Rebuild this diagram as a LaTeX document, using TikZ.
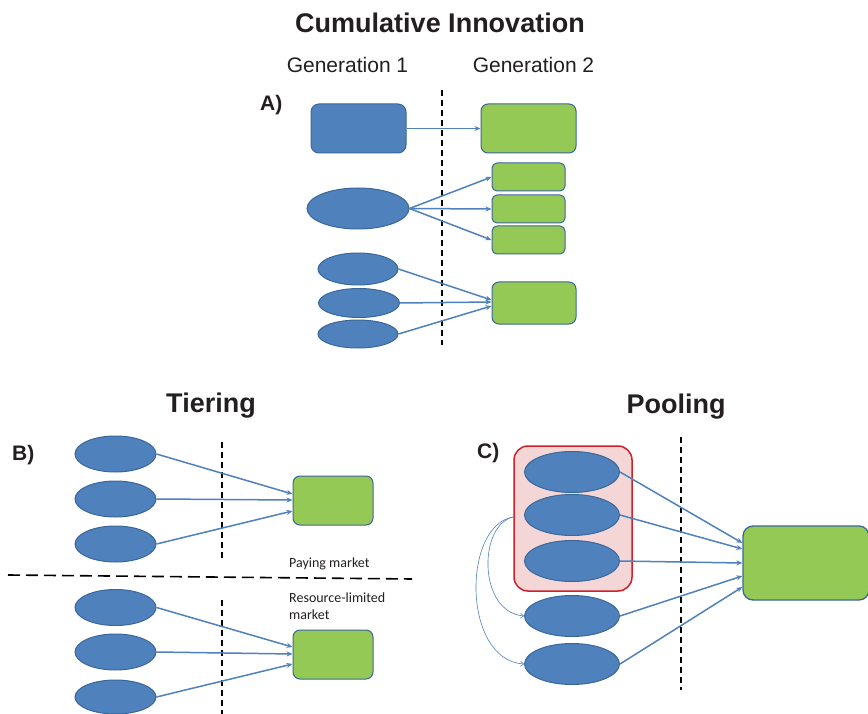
\documentclass[tikz,border=0pt]{standalone}
\usepackage{fontspec}
\setmainfont{Liberation Sans}
\newfontfamily\calfont{Carlito}
\usetikzlibrary{shapes.geometric,arrows.meta,calc}
\definecolor{bfill}{HTML}{4F81BD}
\definecolor{bdraw}{HTML}{3A679A}
\definecolor{gfill}{HTML}{94C955}
\definecolor{arr}{HTML}{4F81BD}
\definecolor{redb}{HTML}{D0202A}
\definecolor{pinkf}{HTML}{F5D6D6}
\definecolor{txt}{HTML}{231F20}
\begin{document}
\begin{tikzpicture}[x=1pt,y=-1pt,
  blueell/.style={ellipse,draw=bdraw,fill=bfill,line width=1pt,inner sep=0pt},
  bluebox/.style={rectangle,rounded corners=8pt,draw=bdraw,fill=bfill,line width=1pt,inner sep=0pt},
  greenbox/.style={rectangle,rounded corners=7pt,draw=bdraw,fill=gfill,line width=1pt,inner sep=0pt},
  conn/.style={draw=arr,line width=1.5pt,-{Stealth[length=6pt,width=5pt]}},
  thinconn/.style={draw=arr,line width=0.6pt,-{Straight Barb[length=3pt,width=5pt]}},
  divider/.style={draw=black,line width=1.6pt,dash pattern=on 6pt off 4pt},
  ttl/.style={text=txt,font=\bfseries\fontsize{27}{32}\selectfont,anchor=base,inner sep=0pt},
  gen/.style={text=txt,font=\fontsize{21}{25}\selectfont,anchor=base,inner sep=0pt},
  lbl/.style={text=txt,font=\bfseries\fontsize{21}{25}\selectfont,anchor=base west,inner sep=0pt},
  mkt/.style={text=txt,font=\calfont\fontsize{14}{17}\selectfont,anchor=base west,inner sep=0pt}
]
\useasboundingbox (0,0) rectangle (868,714);
\fill[white] (0,0) rectangle (868,714);

% ---------------- Panel A ----------------
\node[ttl] (tA) at (440,33) {Cumulative Innovation};
\node[gen] (g1) at (347.5,73) {Generation 1};
\node[gen] (g2) at (533.5,73) {Generation 2};
\node[lbl] (lA) at (260,111) {A)};
\draw[divider] (442,90) -- (442,345);

\node[bluebox,minimum width=95pt,minimum height=49pt] (ab1) at (358.5,128.5) {};
\node[greenbox,minimum width=95pt,minimum height=49pt] (ag1) at (528.5,128.5) {};
\draw[conn] (ab1.east) -- (ag1.west);

\node[blueell,minimum width=102pt,minimum height=41pt] (am) at (358,208.5) {};
\node[greenbox,rounded corners=5pt,minimum width=73pt,minimum height=28pt] (as1) at (528.5,177) {};
\node[greenbox,rounded corners=5pt,minimum width=73pt,minimum height=28pt] (as2) at (528.5,209) {};
\node[greenbox,rounded corners=5pt,minimum width=73pt,minimum height=28pt] (as3) at (528.5,240) {};
\draw[conn] (am.east) -- (as1.west);
\draw[conn] (am.east) -- (as2.west);
\draw[conn] (am.east) -- (as3.west);

\node[blueell,minimum width=80pt,minimum height=32pt] (ae1) at (358,269) {};
\node[blueell,minimum width=81pt,minimum height=29pt] (ae2) at (359,303) {};
\node[blueell,minimum width=80pt,minimum height=28pt] (ae3) at (358,334) {};
\node[greenbox,minimum width=84pt,minimum height=42pt] (ag2) at (534,303) {};
\draw[conn] (ae1.east) -- ($(ag2.west)+(0,-3)$);
\draw[conn] (ae2.east) -- ($(ag2.west)+(0,-1)$);
\draw[conn] (ae3.east) -- ($(ag2.west)+(0,3)$);

% ---------------- Panel B ----------------
\node[ttl] (tB) at (211,412) {Tiering};
\node[lbl] (lB) at (12,460) {B)};
\draw[divider] (222,442) -- (222,560);
\draw[divider] (222,600) -- (222,714);
\draw[draw=black,line width=1.6pt,dash pattern=on 12pt off 6pt] (8,575) -- (412,579);
\node[mkt] (pm) at (289,567) {Paying market};
\node[mkt] (rl1) at (289,602) {Resource-limited};
\node[mkt] (rl2) at (289,619) {market};

\node[blueell,minimum width=81pt,minimum height=36pt] (be1) at (115.5,454) {};
\node[blueell,minimum width=81pt,minimum height=36pt] (be2) at (115.5,499) {};
\node[blueell,minimum width=81pt,minimum height=36pt] (be3) at (115.5,544) {};
\node[greenbox,minimum width=80pt,minimum height=49pt] (bg1) at (333,500.5) {};
\draw[conn] (be1.east) -- ($(bg1.west)+(0,-6.5)$);
\draw[conn] (be2.east) -- ($(bg1.west)+(0,-0.5)$);
\draw[conn] (be3.east) -- ($(bg1.west)+(0,10.5)$);

\node[blueell,minimum width=81pt,minimum height=36pt] (be4) at (115.5,607.5) {};
\node[blueell,minimum width=81pt,minimum height=36pt] (be5) at (115.5,652) {};
\node[blueell,minimum width=81pt,minimum height=34pt] (be6) at (115.5,697) {};
\node[greenbox,minimum width=80pt,minimum height=49pt] (bg2) at (333,654.5) {};
\draw[conn] (be4.east) -- ($(bg2.west)+(0,-7.5)$);
\draw[conn] (be5.east) -- ($(bg2.west)+(0,-0.5)$);
\draw[conn] (be6.east) -- ($(bg2.west)+(0,9.5)$);

% ---------------- Panel C ----------------
\node[ttl] (tC) at (676,413) {Pooling};
\node[lbl] (lC) at (477,458) {C)};
\node[rectangle,rounded corners=14pt,draw=redb,fill=pinkf,line width=1.5pt,
      minimum width=118pt,minimum height=145pt,inner sep=0pt] (pool) at (573,518.5) {};
\draw[divider] (681,437) -- (681,690);

\node[blueell,minimum width=95pt,minimum height=41pt] (ce1) at (572,472) {};
\node[blueell,minimum width=95pt,minimum height=41pt] (ce2) at (572,515) {};
\node[blueell,minimum width=95pt,minimum height=41pt] (ce3) at (572,561) {};
\node[blueell,minimum width=95pt,minimum height=41pt] (ce4) at (572,616) {};
\node[blueell,minimum width=95pt,minimum height=41pt] (ce5) at (572,664) {};
\node[greenbox,rounded corners=10pt,line width=1.3pt,minimum width=126pt,minimum height=74pt] (cg) at (806,563) {};
\draw[conn] (ce1.east) -- ($(cg.west)+(0,-20)$);
\draw[conn] (ce2.east) -- ($(cg.west)+(0,-14)$);
\draw[conn] (ce3.east) -- ($(cg.west)+(0,0)$);
\draw[conn] (ce4.east) -- ($(cg.west)+(0,13)$);
\draw[conn] (ce5.east) -- ($(cg.west)+(0,24)$);

\coordinate (cs) at ($(pool.west)+(0,-1.5)$);
\draw[thinconn] (cs) .. controls (462,525) and (462,660) .. (ce5.west);
\draw[thinconn] (cs) .. controls (478,525) and (478,612) .. (ce4.west);
\end{tikzpicture}
\end{document}
